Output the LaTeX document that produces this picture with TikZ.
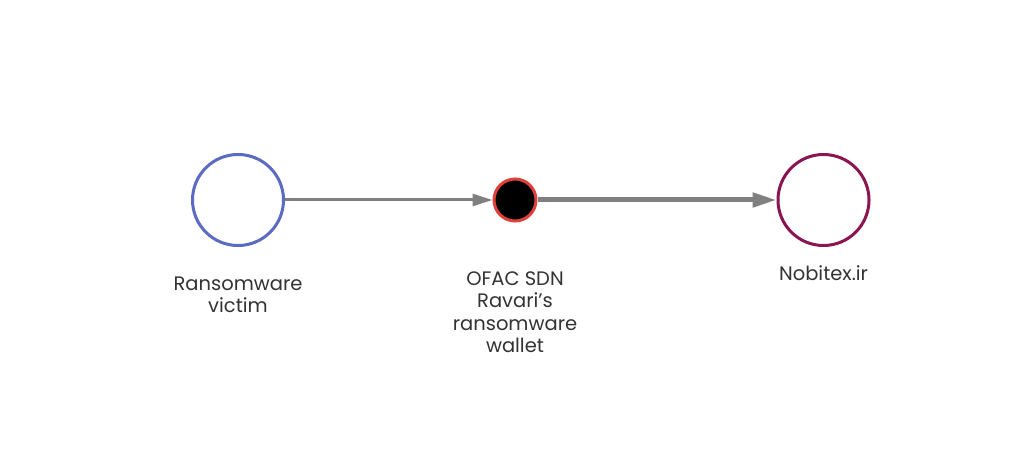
\documentclass[tikz,border=0pt]{standalone}
\usepackage{fontspec}
\setmainfont{Poppins}[Ligatures=ResetAll]
\usetikzlibrary{arrows.meta}
\definecolor{vblue}{HTML}{5B6BC4}
\definecolor{wred}{HTML}{E0403A}
\definecolor{npurple}{HTML}{8A1550}
\definecolor{edgegray}{HTML}{808080}
\definecolor{txt}{HTML}{333333}
\tikzset{
  bignode/.style={circle, line width=3pt, minimum size=91pt, inner sep=0pt, fill=white},
  smallnode/.style={circle, line width=3pt, minimum size=42pt, inner sep=0pt, fill=black, draw=wred},
  lbl/.style={align=center, text=txt, font=\fontsize{19.5}{22.5}\selectfont, inner sep=0pt},
  thinedge/.style={draw=edgegray, line width=3pt, -{Triangle[length=20pt,width=12pt]}},
  thickedge/.style={draw=edgegray, line width=5pt, -{Triangle[length=24pt,width=14pt]}}
}
\begin{document}
\begin{tikzpicture}[x=1pt,y=-1pt]
\useasboundingbox[fill=white] (0,0) rectangle (1024,462);
\node[bignode, draw=vblue] (victim) at (238,200) {};
\node[smallnode] (wallet) at (515,200) {};
\node[bignode, draw=npurple] (nobitex) at (823.5,200) {};
\draw[thinedge] (victim) -- (wallet);
\draw[thickedge] (wallet) -- (nobitex);
\node[lbl] (victimlbl) at (238,295) {Ransomware\\victim};
\node[lbl] (walletlbl) at (515,312) {OFAC SDN\\Ravari's\\ransomware\\wallet};
\node[lbl] (nobitexlbl) at (823.5,273) {Nobitex.ir};
\end{tikzpicture}
\end{document}
